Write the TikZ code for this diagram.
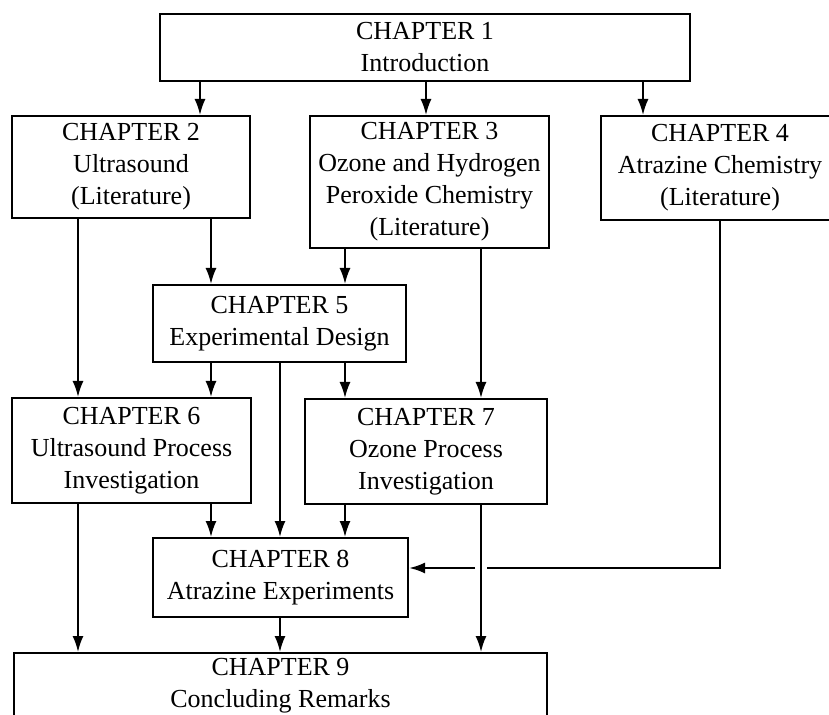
\documentclass[tikz,border=0pt]{standalone}
\usepackage{fontspec}
\setmainfont{Liberation Serif}
\usepackage{tikz}
\usetikzlibrary{arrows.meta}
\tikzstyle{chapterBox}=[draw, line width=1pt, align=center, inner sep=0pt, font=\fontsize{13}{16}\selectfont]
\tikzstyle{chapterLink}=[->, line width=0.9pt, -{Latex[length=8pt,width=5.5pt]}]

\begin{document}
\begin{tikzpicture}[x=0.5pt, y=-0.5pt]
  \useasboundingbox (0,0) rectangle (829,715);
  \clip (0,0) rectangle (829,715);

  % Nodes
  \node (intro) at (425,47.5) [chapterBox, minimum width=265pt, minimum height=33.5pt] {CHAPTER 1\\Introduction};

  \node (ultra) at (131,167) [chapterBox, minimum width=119pt, minimum height=51pt] {CHAPTER 2\\Ultrasound\\(Literature)};
  \node (ozone) at (429.5,182) [chapterBox, minimum width=119.5pt, minimum height=66pt] {CHAPTER 3\\Ozone and Hydrogen\\Peroxide Chemistry\\(Literature)};
  \node (atrazine) at (720,168) [chapterBox, minimum width=119pt, minimum height=52pt] {CHAPTER 4\\Atrazine Chemistry\\(Literature)};

  \node (design) at (279.5,323.5) [chapterBox, minimum width=126.5pt, minimum height=38.5pt] {CHAPTER 5\\Experimental Design};

  \node (usproc) at (131.5,450.5) [chapterBox, minimum width=119.5pt, minimum height=52.5pt] {CHAPTER 6\\Ultrasound Process\\Investigation};
  \node (ozproc) at (426,451.5) [chapterBox, minimum width=121pt, minimum height=52.5pt] {CHAPTER 7\\Ozone Process\\Investigation};

  \node (experiments) at (280.5,577.5) [chapterBox, minimum width=127.5pt, minimum height=39.5pt] {CHAPTER 8\\Atrazine Experiments};

  \node (remarks) at (280.5,686) [chapterBox, minimum width=266.5pt, minimum height=33pt] {CHAPTER 9\\Concluding Remarks};

  % Columns of the links
  \coordinate (topL) at (200,0);
  \coordinate (topM) at (426,0);
  \coordinate (topR) at (643,0);
  \coordinate (colA) at (78,0);
  \coordinate (colB) at (211,0);
  \coordinate (colC) at (280,0);
  \coordinate (colD) at (345,0);
  \coordinate (colE) at (481,0);
  \coordinate (hop) at (481,568);

  % Links
  \draw[chapterLink] (intro.south -| topL) -- (ultra.north -| topL);
  \draw[chapterLink] (intro.south -| topM) -- (ozone.north -| topM);
  \draw[chapterLink] (intro.south -| topR) -- (atrazine.north -| topR);

  \draw[chapterLink] (ultra.south -| colB) -- (design.north -| colB);
  \draw[chapterLink] (ultra.south -| colA) -- (usproc.north -| colA);
  \draw[chapterLink] (ozone.south -| colD) -- (design.north -| colD);
  \draw[chapterLink] (ozone.south -| colE) -- (ozproc.north -| colE);

  \draw[chapterLink] (design.south -| colB) -- (usproc.north -| colB);
  \draw[chapterLink] (design.south -| colC) -- (experiments.north -| colC);
  \draw[chapterLink] (design.south -| colD) -- (ozproc.north -| colD);

  \draw[chapterLink] (usproc.south -| colB) -- (experiments.north -| colB);
  \draw[chapterLink] (usproc.south -| colA) -- (remarks.north -| colA);
  \draw[chapterLink] (ozproc.south -| colD) -- (experiments.north -| colD);
  \draw[chapterLink] (ozproc.south -| colE) -- (remarks.north -| colE);

  \draw[chapterLink] (experiments.south -| colC) -- (remarks.north -| colC);

  \draw[line width=1.2pt] (atrazine.south) |- ([xshift=3pt]hop);
  \draw[chapterLink, line width=1.2pt] ([xshift=-3pt]hop) -- (experiments.east |- hop);

\end{tikzpicture}
\end{document}
